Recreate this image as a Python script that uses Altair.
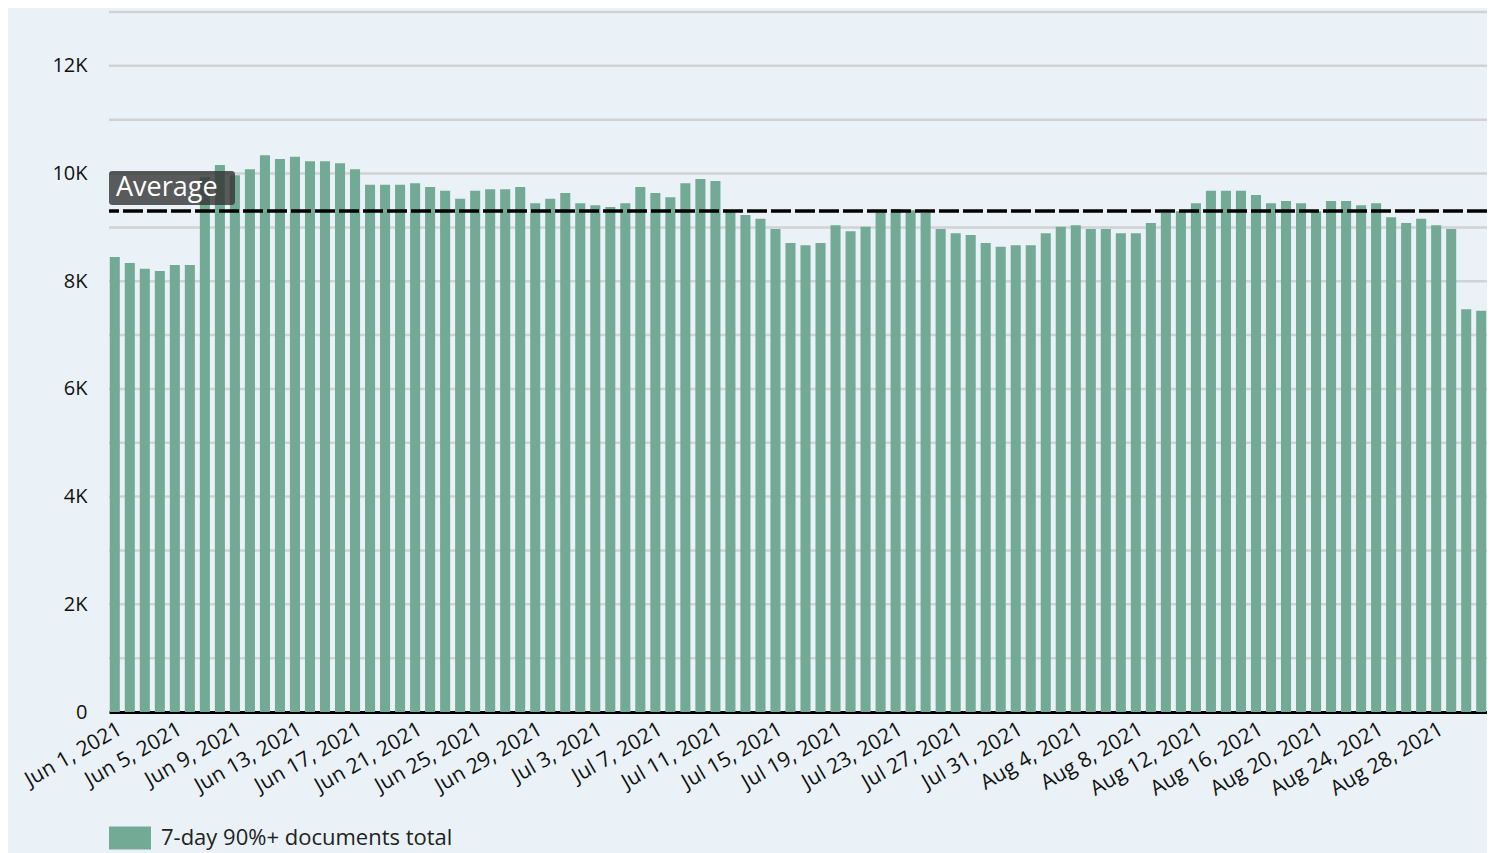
import altair as alt
import pandas as pd

dates = pd.date_range("2021-06-01", "2021-08-31", freq="D").strftime("%Y-%m-%d").tolist()

values = [
    8450, 8340, 8230, 8190, 8300, 8300, 9930, 10160, 9970, 10080,
    10340, 10270, 10310, 10230, 10230, 10190, 10080, 9790, 9790, 9790,
    9820, 9750, 9680, 9530, 9680, 9710, 9710, 9750, 9450, 9530,
    9640, 9450, 9410, 9380, 9450, 9750, 9640, 9560, 9820, 9900,
    9860, 9300, 9230, 9160, 8970, 8710, 8670, 8710, 9040, 8930,
    9010, 9300, 9340, 9320, 9270, 8970, 8890, 8860, 8710, 8640,
    8670, 8670, 8890, 9010, 9040, 8970, 8970, 8890, 8890, 9080,
    9270, 9300, 9450, 9680, 9680, 9680, 9600, 9450, 9490, 9450,
    9300, 9490, 9490, 9410, 9450, 9190, 9080, 9160, 9040, 8970,
    7480, 7450,
]

tick_dates = dates[::4][:23]
series_name = "7-day 90%+ documents total"
avg_label = "Average"

df = pd.DataFrame({"date": dates, "value": values, "series": series_name})

FONT = "Open Sans"
BAR = "#72AA96"
BG = "#EAF2F8"

base = alt.Chart(df)

bars = base.mark_bar().encode(
    x=alt.X(
        "date:O",
        sort=None,
        scale=alt.Scale(paddingInner=0.33, paddingOuter=0.05),
        axis=alt.Axis(
            title=None,
            values=tick_dates,
            labelExpr="timeFormat(toDate(datum.value + 'T00:00:00'), '%b %-d, %Y')",
            labelAngle=330,
            labelFontSize=21,
            labelColor="#111111",
            labelFont=FONT,
            ticks=False,
            domain=True,
            domainColor="#000000",
            domainWidth=3,
            labelPadding=6,
            grid=False,
        ),
    ),
    y=alt.Y(
        "value:Q",
        scale=alt.Scale(domain=[0, 13000], nice=False),
        axis=alt.Axis(
            title=None,
            values=[0, 2000, 4000, 6000, 8000, 10000, 12000],
            labelExpr="datum.value == 0 ? '0' : (datum.value / 1000) + 'K'",
            labelFontSize=20,
            labelColor="#111111",
            labelFont=FONT,
            ticks=False,
            domain=False,
            grid=False,
            labelPadding=22,
        ),
    ),
    color=alt.Color(
        "series:N",
        scale=alt.Scale(range=[BAR]),
        legend=alt.Legend(
            title=None,
            orient="none",
            legendX=0,
            legendY=805,
            symbolType="M-1,-0.55L1,-0.55L1,0.55L-1,0.55Z",
            symbolSize=1764,
            symbolStrokeWidth=0,
            symbolOpacity=1,
            labelFontSize=22,
            labelFont=FONT,
            labelColor="#222222",
            labelOffset=10,
            labelLimit=400,
            padding=0,
        ),
    ),
)

grid = alt.Chart(pd.DataFrame({"g": list(range(0, 14000, 1000))[1:]})).mark_rule(
    color="#D0D2D4", strokeWidth=2.5
).encode(y=alt.Y("g:Q", scale=alt.Scale(domain=[0, 13000], nice=False)))

avg_base = base.transform_aggregate(avg="mean(value)")

avg_line = avg_base.mark_rule(
    color="#000000", strokeWidth=3.5, strokeDash=[20, 4]
).encode(y="avg:Q")

avg_box = avg_base.mark_rect(
    color="#333333", opacity=0.8, cornerRadius=3, yOffset=-6, y2Offset=-40
).encode(
    y="avg:Q", y2="avg:Q", x=alt.value(0), x2=alt.value(126)
)

avg_text = avg_base.transform_calculate(label=f"'{avg_label}'").mark_text(
    color="#FFFFFF", font=FONT, fontSize=27, align="left", baseline="middle", dx=7, dy=-23
).encode(y="avg:Q", x=alt.value(0), text="label:N")

chart = (
    alt.layer(grid, bars, avg_line, avg_box, avg_text)
    .resolve_scale(y="shared")
    .properties(
        width=1378,
        height=700,
        background=BG,
        autosize=alt.AutoSizeParams(type="none"),
        padding={"left": 101, "top": 4, "right": 0, "bottom": 141},
    )
    .configure_view(stroke=None)
)

chart.save("out.html", embed_options={"renderer": "svg", "actions": False})
